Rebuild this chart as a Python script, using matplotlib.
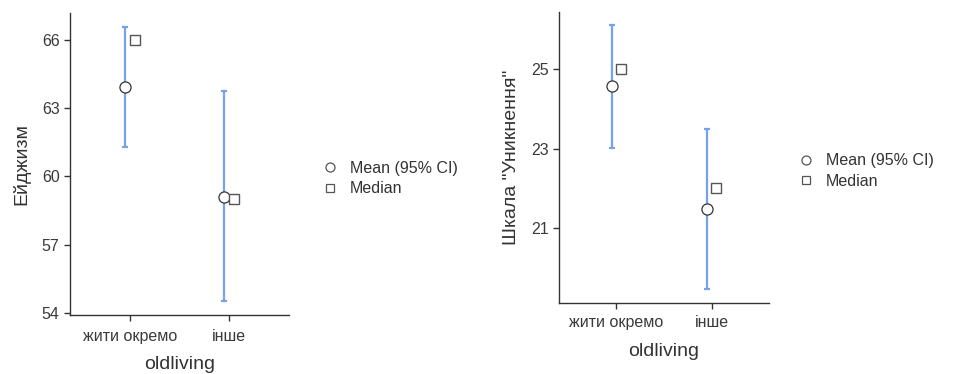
import numpy as np
import matplotlib.pyplot as plt
from matplotlib.lines import Line2D

plt.rcParams['font.family'] = ['Liberation Sans', 'DejaVu Sans']

# --- data ---
categories = ["жити окремо", "інше"]
x_label = "oldliving"

ageism_mean = [63.96, 59.11]
ageism_ci_low = [61.32, 54.50]
ageism_ci_high = [66.59, 63.76]
ageism_median = [66.0, 59.0]
ageism_ticks = [54, 57, 60, 63, 66]

avoid_mean = [24.58, 21.48]
avoid_ci_low = [23.01, 19.46]
avoid_ci_high = [26.13, 23.51]
avoid_median = [25.0, 22.0]
avoid_ticks = [21, 23, 25]

blue = "#74a2ec"
dark = "#333333"
gray = "#555555"

fig = plt.figure(figsize=(9.56, 3.74), dpi=100)


def panel(ax, mean, lo, hi, med, ticks, ylim, ylabel, xpad, lpad):
    x = np.arange(len(categories))
    mean = np.array(mean)
    yerr = [mean - np.array(lo), np.array(hi) - mean]
    ax.errorbar(x - 0.05, mean, yerr=yerr, fmt="none", ecolor=blue,
                elinewidth=1.6, capsize=2.2, capthick=1.6, zorder=2)
    ax.plot(x - 0.05, mean, "o", ms=8, mfc="white", mec=dark, mew=0.9, zorder=3)
    ax.plot(x + 0.05, med, "s", ms=6.5, mfc="white", mec=gray, mew=1.0, zorder=3)
    ax.set_xlim(-0.6, 1.6)
    ax.set_ylim(*ylim)
    ax.set_xticks(x)
    ax.set_xticklabels(categories)
    ax.set_yticks(ticks)
    for s in ["top", "right"]:
        ax.spines[s].set_visible(False)
    for s in ["left", "bottom"]:
        ax.spines[s].set_color(dark)
        ax.spines[s].set_linewidth(1.0)
    ax.tick_params(colors=dark, labelsize=11.5, length=4, width=1.0, labelcolor="#3a3a3a")
    ax.tick_params(axis="x", pad=xpad)
    ax.set_xlabel(x_label, fontsize=14, color="#333333", labelpad=lpad)
    ax.set_ylabel(ylabel, fontsize=14, color="#333333", labelpad=8)


ax1 = fig.add_axes([0.0732, 0.158, 0.229, 0.807])
panel(ax1, ageism_mean, ageism_ci_low, ageism_ci_high, ageism_median,
      ageism_ticks, (53.9, 67.2), "Ейджизм", 6, 8.5)

ax2 = fig.add_axes([0.585, 0.191, 0.219, 0.776])
panel(ax2, avoid_mean, avoid_ci_low, avoid_ci_high, avoid_median,
      avoid_ticks, (19.12, 26.44), 'Шкала "Уникнення"', 5, 9.5)

handles = [
    Line2D([], [], ls="none", marker="o", ms=6.5, mfc="white", mec=gray, mew=0.9),
    Line2D([], [], ls="none", marker="s", ms=6, mfc="white", mec=gray, mew=0.9),
]
labels = ["Mean (95% CI)", "Median"]
for anchor in [(0.337, 0.523), (0.835, 0.543)]:
    leg = fig.legend(handles, labels, loc="center left", bbox_to_anchor=anchor,
                     frameon=False, fontsize=11.5, handlelength=1.0,
                     handletextpad=0.75, labelspacing=0.35, borderpad=0,
                     borderaxespad=0)
    for t in leg.get_texts():
        t.set_color("#333333")

fig.savefig("out.png", dpi=100)
